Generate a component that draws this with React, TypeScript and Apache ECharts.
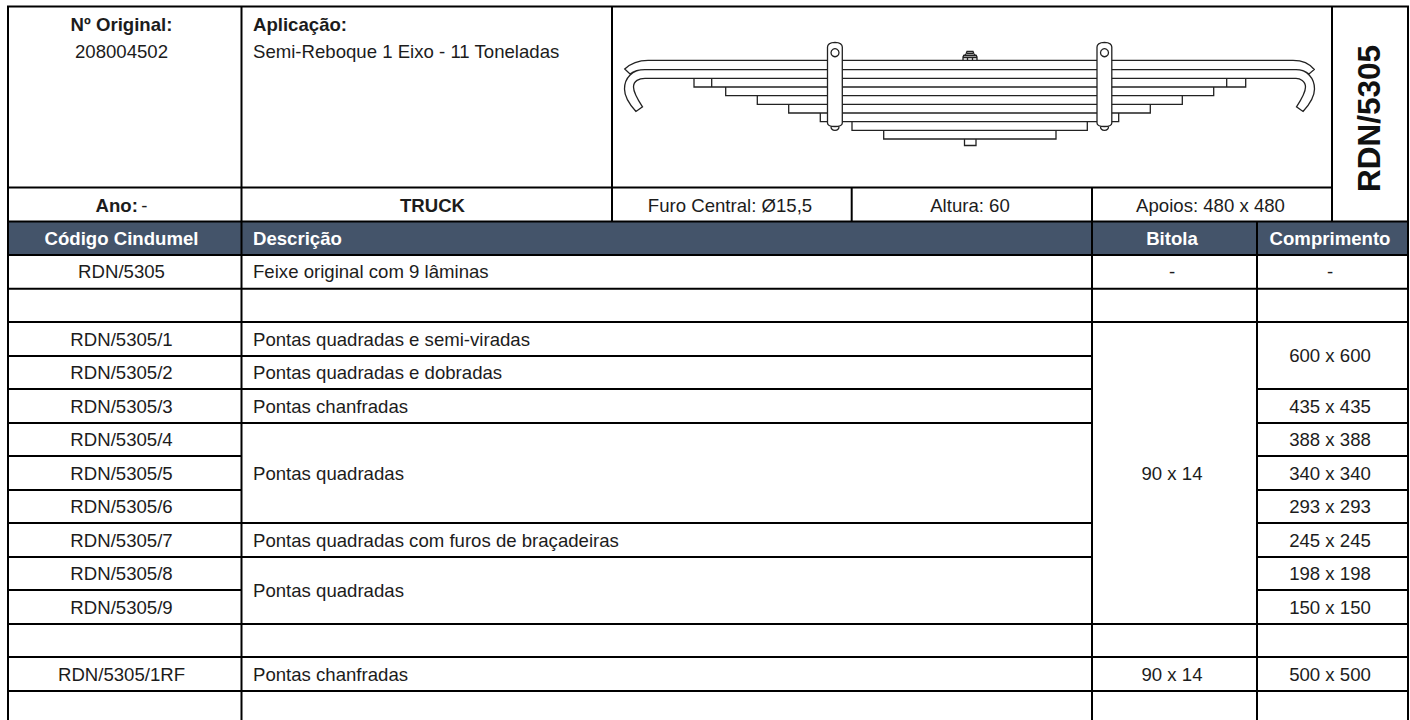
import React, { useEffect, useRef } from "react";
import * as echarts from "echarts";

const FONT = '"Liberation Sans", Arial, sans-serif';
const INK = "#1c1c1c";
const HEADER_FILL = "#44546A";

const headerLabels = ["Código Cindumel", "Descrição", "Bitola", "Comprimento"];
const codes = [
  "RDN/5305", "", "RDN/5305/1", "RDN/5305/2", "RDN/5305/3", "RDN/5305/4", "RDN/5305/5",
  "RDN/5305/6", "RDN/5305/7", "RDN/5305/8", "RDN/5305/9", "", "RDN/5305/1RF", "",
];
// [first row, row span, text]
const descriptions: [number, number, string][] = [
  [0, 1, "Feixe original com 9 lâminas"],
  [1, 1, ""],
  [2, 1, "Pontas quadradas e semi-viradas"],
  [3, 1, "Pontas quadradas e dobradas"],
  [4, 1, "Pontas chanfradas"],
  [5, 3, "Pontas quadradas"],
  [8, 1, "Pontas quadradas com furos de braçadeiras"],
  [9, 2, "Pontas quadradas"],
  [11, 1, ""],
  [12, 1, "Pontas chanfradas"],
  [13, 1, ""],
];
const gauges: [number, number, string][] = [
  [0, 1, "-"],
  [1, 1, ""],
  [2, 9, "90 x 14"],
  [11, 1, ""],
  [12, 1, "90 x 14"],
  [13, 1, ""],
];
const lengths: [number, number, string][] = [
  [0, 1, "-"],
  [1, 1, ""],
  [2, 2, "600 x 600"],
  [4, 1, "435 x 435"],
  [5, 1, "388 x 388"],
  [6, 1, "340 x 340"],
  [7, 1, "293 x 293"],
  [8, 1, "245 x 245"],
  [9, 1, "198 x 198"],
  [10, 1, "150 x 150"],
  [11, 1, ""],
  [12, 1, "500 x 500"],
  [13, 1, ""],
];

const rowEdges = [255, 288.7, 322, 356, 389, 423, 456, 490, 523, 557, 590, 624, 657, 691, 724];
const colX = [8, 241.5, 1092, 1257, 1408];

const leafY = [60.3, 69.7, 78.3, 87, 95.7, 104.3, 113, 121.7, 130.3, 139];
// left end, right end of the stepped leaves (third leaf down)
const leafEnds: [number, number][] = [
  [694, 1245.7], [725.7, 1213.7], [757.3, 1182.3], [788.7, 1150.3], [820.3, 1118.7], [852, 1087.3], [883.7, 1056],
];

function buildSpring(): string {
  let d = "";
  const L = 648, R = 1293;
  d += `M${L} ${leafY[0]}L${R} ${leafY[0]}`;
  d += `M${L - 3} ${leafY[1]}L${R + 3} ${leafY[1]}`;
  d += `M${L - 3} ${leafY[2]}L${R + 3} ${leafY[2]}`;
  // left hook
  d += `M${L} ${leafY[0]}C637 60.3 630 64 624.7 69L630 74C634 71 640 69.7 ${L - 3} ${leafY[1]}`;
  d += `M${L - 3} ${leafY[1]}C632 69.7 624.5 78 624.5 89C624.5 96 630 105 636 111.5L642.5 106.8C638 100 633.5 93 633.5 87C633.5 81 639 78.3 ${L - 3} ${leafY[2]}`;
  // right hook
  d += `M${R} ${leafY[0]}C1303 60.3 1310 64 1314.3 69.5L1309 74C1305 71 1300 69.7 ${R + 3} ${leafY[1]}`;
  d += `M${R + 3} ${leafY[1]}C1307 69.7 1314.5 78 1314.5 89C1314.5 96 1309 105 1303 111.5L1296.5 106.8C1301 100 1305.5 93 1305.5 87C1305.5 81 1300 78.3 ${R + 3} ${leafY[2]}`;
  // stepped leaves
  leafEnds.forEach(([a, b], i) => {
    const top = leafY[i + 2], bot = leafY[i + 3];
    d += `M${a} ${top}L${a} ${bot}L${b} ${bot}L${b} ${top}`;
    d += `M${a} ${top}L${b} ${top}`;
  });
  // notches on the third leaf
  d += `M711.7 78.3L711.7 87M1226.7 78.3L1226.7 87`;
  // bottom stud
  d += `M964.5 139L964.5 145.5L976 145.5L976 139`;
  return d;
}

const STRAP_D =
  "M827.5 47C827.5 43.5 830 42.5 835 42.3C840 42.5 842.3 43.5 842.3 47L842.3 123C842.3 125.5 840 126.5 835 126.5C830 126.5 827.5 125.5 827.5 123Z";
const STRAP_TIP_D = "M831 126.5C831 129.5 833 130.3 835 130.3C837 130.3 839 129.5 839 126.5";
const NUT_D =
  "M963 60.3L963 57C963.5 55 965 55.5 966 54L967 51.5L973 51.5L974 54C975 55.5 976.5 55 977 57L977 60.3M963 55.5L977 55.5M963 57.5L977 57.5M967.5 57.5L967.5 60.3M972.5 57.5L972.5 60.3M967 53.5L973 53.5";

function text(str: string, x: number, y: number, align: string, size: number, weight: string, fill = INK) {
  return {
    type: "text",
    x,
    y,
    silent: true,
    style: { text: str, fill, font: `${weight} ${size}px ${FONT}`, textAlign: align, textVerticalAlign: "middle" },
  };
}

function line(x1: number, y1: number, x2: number, y2: number, width = 2) {
  return { type: "line", silent: true, shape: { x1, y1, x2, y2 }, style: { stroke: "#000", lineWidth: width } };
}

function App() {
  const ref = useRef<HTMLDivElement>(null);
  useEffect(() => {
    echarts.graphic.registerShape("springLeaves", echarts.graphic.extendPath(buildSpring(), {}) as any);
    echarts.graphic.registerShape("springStrap", echarts.graphic.extendPath(STRAP_D, {}) as any);
    echarts.graphic.registerShape("springTip", echarts.graphic.extendPath(STRAP_TIP_D, {}) as any);
    echarts.graphic.registerShape("springNut", echarts.graphic.extendPath(NUT_D, {}) as any);

    const chart = echarts.init(ref.current!, undefined, { renderer: "svg" });
    const els: any[] = [];
    const T = 6.5, M = 187.5, H1 = 221.5, H2 = 255;
    const S = 18.6;
    const CX = [121.5, 1172, 1330];

    els.push({ type: "rect", silent: true, shape: { x: 8, y: H1, width: 1400, height: H2 - H1 }, style: { fill: HEADER_FILL } });

    // frame of the top block
    els.push(line(7, T, 1409, T), line(8, M, 1332, M), line(7, H1, 1409, H1), line(7, H2, 1409, H2));
    els.push(line(241.5, T, 241.5, H1), line(612, T, 612, H1), line(851.7, M, 851.7, H1), line(1092, M, 1092, H1), line(1332, T, 1332, H1));
    els.push(line(8, T, 8, 720), line(1408, T, 1408, 720));

    // body: columns and merged cells
    [241.5, 1092, 1257].forEach((x) => els.push(line(x, H1, x, 720)));
    const cols: [number, number, [number, number, string][], number][] = [
      [colX[1], colX[2], descriptions, 253],
      [colX[2], colX[3], gauges, CX[1]],
      [colX[3], colX[4], lengths, CX[2]],
    ];
    codes.forEach((c, i) => {
      if (rowEdges[i + 1] < 720) els.push(line(colX[0], rowEdges[i + 1], colX[1], rowEdges[i + 1]));
      els.push(text(c, CX[0], (rowEdges[i] + rowEdges[i + 1]) / 2, "center", S, "normal"));
    });
    cols.forEach(([a, b, cells, tx], ci) => {
      cells.forEach(([r, span, str]) => {
        const bottom = rowEdges[r + span];
        if (bottom < 720) els.push(line(a, bottom, b, bottom));
        const y = (rowEdges[r] + bottom) / 2;
        els.push(text(str, tx, y, ci === 0 ? "left" : "center", S, "normal"));
      });
    });

    // header
    els.push(text(headerLabels[0], CX[0], 238, "center", S, "bold", "#fff"));
    els.push(text(headerLabels[1], 253, 238, "left", S, "bold", "#fff"));
    els.push(text(headerLabels[2], CX[1], 238, "center", S, "bold", "#fff"));
    els.push(text(headerLabels[3], CX[2], 238, "center", S, "bold", "#fff"));

    // top block
    els.push(text("Nº Original:", CX[0], 24, "center", S, "bold"));
    els.push(text("208004502", CX[0], 51, "center", S, "normal"));
    els.push(text("Aplicação:", 253, 24, "left", S, "bold"));
    els.push(text("Semi-Reboque 1 Eixo - 11 Toneladas", 253, 51, "left", S, "normal"));
    els.push({
      type: "text",
      x: CX[0],
      y: 205.5,
      silent: true,
      style: {
        text: "{b|Ano:} {n|-}",
        textAlign: "center",
        textVerticalAlign: "middle",
        rich: {
          b: { font: `bold ${S}px ${FONT}`, fill: INK },
          n: { font: `normal ${S}px ${FONT}`, fill: INK },
        },
      },
    });
    els.push(text("TRUCK", 432.5, 205.5, "center", S, "bold"));
    els.push(text("Furo Central: Ø15,5", 730, 205.5, "center", S, "normal"));
    els.push(text("Altura: 60", 970, 205.5, "center", S, "normal"));
    els.push(text("Apoios: 480 x 480", 1210.5, 205.5, "center", S, "normal"));
    els.push({
      type: "text",
      x: 1369,
      y: 118.5,
      rotation: Math.PI / 2,
      silent: true,
      style: { text: "RDN/5305", fill: "#111", font: `bold 31.5px ${FONT}`, textAlign: "center", textVerticalAlign: "middle" },
    });

    // spring drawing
    const draw = { stroke: "#222", lineWidth: 1.3, fill: "none" };
    els.push({ type: "springLeaves", silent: true, style: draw });
    [0, 269.5].forEach((dx) => {
      els.push({ type: "springTip", silent: true, x: dx, style: { ...draw, fill: "#fff" } });
      els.push({ type: "springStrap", silent: true, x: dx, style: { ...draw, fill: "#fff" } });
      els.push({ type: "circle", silent: true, shape: { cx: 835 + dx, cy: 52.7, r: 4 }, style: { ...draw, fill: "#fff" } });
    });
    els.push({ type: "springNut", silent: true, style: draw });

    chart.setOption({ animation: false, graphic: { elements: els } });
    return () => chart.dispose();
  }, []);
  return <div ref={ref} style={{ position: "fixed", left: 0, top: 0, width: 1410, height: 720, background: "#fff" }} />;
}

export default App;
